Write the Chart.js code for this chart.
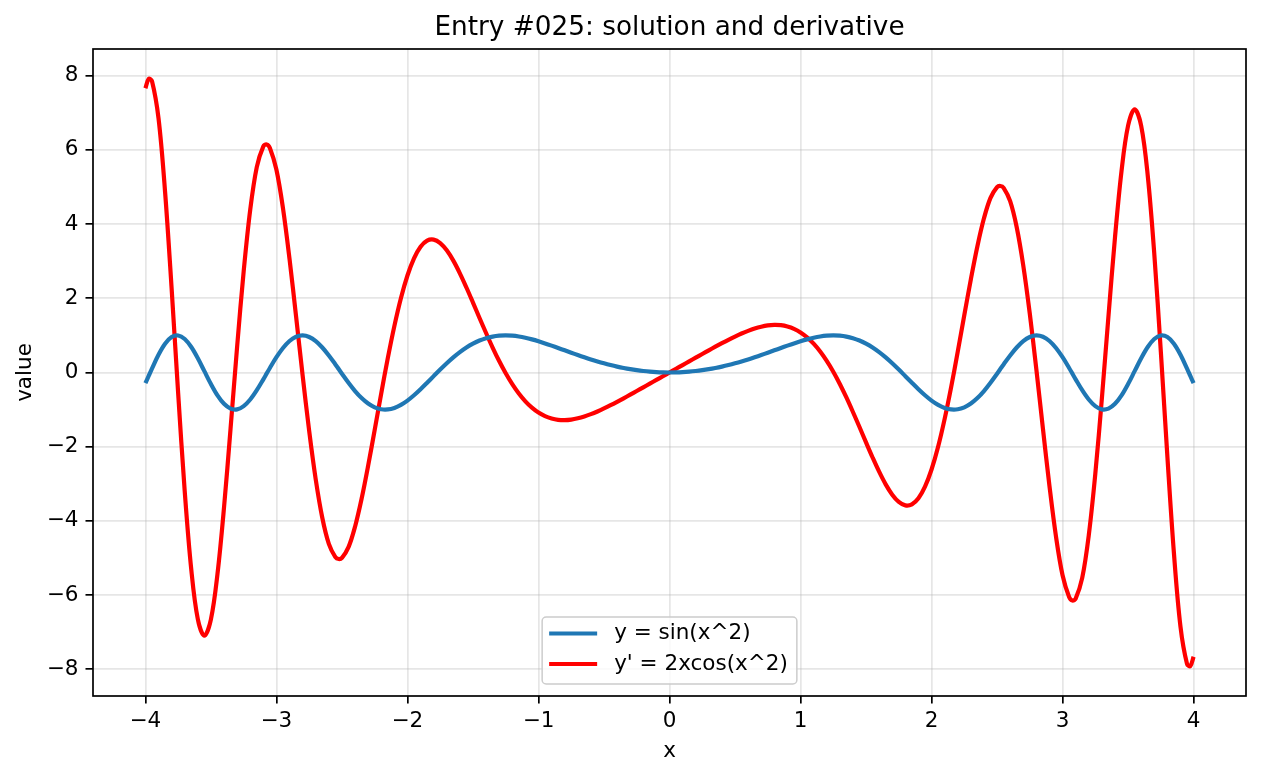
<!DOCTYPE html>
<html>
<head>
<meta charset="utf-8">
<script src="https://cdn.jsdelivr.net/npm/chart.js@4.4.1/dist/chart.umd.min.js"></script>
<style>
html,body{margin:0;padding:0;background:#ffffff;}
canvas{display:block;}
</style>
</head>
<body>
<canvas id="c" width="1261" height="776"></canvas>
<script>
const titleText = "Entry #025: solution and derivative";
const xLabel = "x";
const yLabel = "value";
const seriesLabels = ["y = sin(x^2)", "y' = 2xcos(x^2)"];
const xTicks = [-4, -3, -2, -1, 0, 1, 2, 3, 4];
const yTicks = [-8, -6, -4, -2, 0, 2, 4, 6, 8];

const xValues = [
-4, -3.975, -3.95, -3.9, -3.85, -3.8, -3.75, -3.7, -3.65, -3.6, -3.55, -3.5, -3.45, -3.4, -3.35, -3.3, -3.25, -3.2, -3.15, -3.1, -3.075, -3.05, -3.0,
-2.95, -2.9, -2.85, -2.8, -2.75, -2.7, -2.65, -2.6, -2.55, -2.525, -2.5, -2.45, -2.4, -2.35, -2.3, -2.25, -2.2, -2.15, -2.1, -2.05, -2.0,
-1.95, -1.9, -1.85, -1.8, -1.75, -1.7, -1.65, -1.6, -1.55, -1.5, -1.45, -1.4, -1.35, -1.3, -1.25, -1.2, -1.15, -1.1, -1.05, -1.0,
-0.95, -0.9, -0.85, -0.8, -0.75, -0.7, -0.65, -0.6, -0.55, -0.5, -0.45, -0.4, -0.35, -0.3, -0.25, -0.2, -0.15, -0.1, -0.05, 0,
0.05, 0.1, 0.15, 0.2, 0.25, 0.3, 0.35, 0.4, 0.45, 0.5, 0.55, 0.6, 0.65, 0.7, 0.75, 0.8, 0.85, 0.9, 0.95, 1.0,
1.05, 1.1, 1.15, 1.2, 1.25, 1.3, 1.35, 1.4, 1.45, 1.5, 1.55, 1.6, 1.65, 1.7, 1.75, 1.8, 1.85, 1.9, 1.95, 2.0,
2.05, 2.1, 2.15, 2.2, 2.25, 2.3, 2.35, 2.4, 2.45, 2.5, 2.525, 2.55, 2.6, 2.65, 2.7, 2.75, 2.8, 2.85, 2.9, 2.95, 3.0,
3.05, 3.075, 3.1, 3.15, 3.2, 3.25, 3.3, 3.35, 3.4, 3.45, 3.5, 3.55, 3.6, 3.65, 3.7, 3.75, 3.8, 3.85, 3.9, 3.95, 3.975, 4.0
];

const ySolution = [
-0.2879, -0.0925, 0.1053, 0.4777, 0.7742, 0.9545, 0.9972, 0.9018, 0.6862, 0.3835, 0.0361, -0.3111, -0.6166, -0.8449, -0.9744, -0.9944, -0.9077, -0.7280, -0.4774, -0.1841, -0.0308, 0.1220, 0.4121,
0.6612, 0.8498, 0.9640, 0.9999, 0.9578, 0.8453, 0.6738, 0.4590, 0.2175, 0.0923, -0.0332, -0.2770, -0.5002, -0.6894, -0.8378, -0.9393, -0.9919, -0.9960, -0.9547, -0.8727, -0.7568,
-0.6139, -0.4515, -0.2772, -0.0984, 0.0790, 0.2489, 0.4069, 0.5494, 0.6737, 0.7781, 0.8619, 0.9249, 0.9685, 0.9929, 1.0000, 0.9915, 0.9695, 0.9356, 0.8923, 0.8415,
0.7848, 0.7243, 0.6613, 0.5972, 0.5333, 0.4706, 0.4101, 0.3523, 0.2979, 0.2474, 0.2011, 0.1593, 0.1222, 0.0899, 0.0625, 0.0400, 0.0225, 0.0100, 0.0025, 0,
0.0025, 0.0100, 0.0225, 0.0400, 0.0625, 0.0899, 0.1222, 0.1593, 0.2011, 0.2474, 0.2979, 0.3523, 0.4101, 0.4706, 0.5333, 0.5972, 0.6613, 0.7243, 0.7848, 0.8415,
0.8923, 0.9356, 0.9695, 0.9915, 1.0000, 0.9929, 0.9685, 0.9249, 0.8619, 0.7781, 0.6737, 0.5494, 0.4069, 0.2489, 0.0790, -0.0984, -0.2772, -0.4515, -0.6139, -0.7568,
-0.8727, -0.9547, -0.9960, -0.9919, -0.9393, -0.8378, -0.6894, -0.5002, -0.2770, -0.0332, 0.0923, 0.2175, 0.4590, 0.6738, 0.8453, 0.9578, 0.9999, 0.9640, 0.8498, 0.6612, 0.4121,
0.1220, -0.0308, -0.1841, -0.4774, -0.7280, -0.9077, -0.9944, -0.9744, -0.8449, -0.6166, -0.3111, 0.0361, 0.3835, 0.6862, 0.9018, 0.9972, 0.9545, 0.7742, 0.4777, 0.1053, -0.0925, -0.2879
];

const yDerivative = [
7.662, 7.916, 7.856, 6.852, 4.873, 2.266, -0.560, -3.198, -5.310, -6.649, -7.095, -6.653, -5.432, -3.637, -1.508, 0.696, 2.727, 4.387, 5.536, 6.094, 6.147, 6.054, 5.467,
4.427, 3.058, 1.512, -0.078, -1.580, -2.885, -3.916, -4.620, -4.978, -5.028, -4.997, -4.708, -4.156, -3.404, -2.512, -1.544, -0.560, 0.386, 1.250, 2.002, 2.615,
3.078, 3.391, 3.555, 3.583, 3.489, 3.293, 3.015, 2.674, 2.291, 1.885, 1.470, 1.065, 0.673, 0.309, -0.021, -0.313, -0.566, -0.777, -0.948, -1.081,
-1.178, -1.241, -1.275, -1.283, -1.269, -1.235, -1.186, -1.123, -1.050, -0.969, -0.882, -0.790, -0.695, -0.598, -0.499, -0.399, -0.300, -0.200, -0.100, 0,
0.100, 0.200, 0.300, 0.399, 0.499, 0.598, 0.695, 0.790, 0.882, 0.969, 1.050, 1.123, 1.186, 1.235, 1.269, 1.283, 1.275, 1.241, 1.178, 1.081,
0.948, 0.777, 0.566, 0.313, 0.021, -0.309, -0.673, -1.065, -1.470, -1.885, -2.291, -2.674, -3.015, -3.293, -3.489, -3.583, -3.555, -3.391, -3.078, -2.615,
-2.002, -1.250, -0.386, 0.560, 1.544, 2.512, 3.404, 4.156, 4.708, 4.997, 5.028, 4.978, 4.620, 3.916, 2.885, 1.580, 0.078, -1.512, -3.058, -4.427, -5.467,
-6.054, -6.147, -6.094, -5.536, -4.387, -2.727, -0.696, 1.508, 3.637, 5.432, 6.653, 7.095, 6.649, 5.310, 3.198, 0.560, -2.266, -4.873, -6.852, -7.856, -7.916, -7.662
];

const FONT = '"DejaVu Sans", "Liberation Sans", sans-serif';
const FS = 21.5;
const tickFont = { family: FONT, size: FS, weight: 'normal' };
const gridColor = 'rgba(176,176,176,0.32)';

function fmt(v) {
  return v < 0 ? '\u2212' + Math.abs(v) : String(v);
}

const titlePlugin = {
  id: 'mplTitle',
  afterDraw(chart) {
    const { ctx, chartArea: a } = chart;
    ctx.save();
    ctx.font = '26.3px ' + FONT;
    ctx.fillStyle = '#000';
    ctx.textAlign = 'center';
    ctx.textBaseline = 'alphabetic';
    ctx.fillText(titleText, (a.left + a.right) / 2, 35);
    ctx.restore();
  }
};

const spinePlugin = {
  id: 'spines',
  afterDatasetsDraw(chart) {
    const { ctx, chartArea: a } = chart;
    ctx.save();
    ctx.strokeStyle = '#000';
    ctx.lineWidth = 1.7;
    ctx.strokeRect(a.left, a.top, a.right - a.left, a.bottom - a.top);
    ctx.restore();
  }
};

const legendPlugin = {
  id: 'mplLegend',
  afterDraw(chart) {
    const { ctx, chartArea: a } = chart;
    const ds = chart.data.datasets;
    ctx.save();
    ctx.font = FS + 'px ' + FONT;
    const textW = Math.max(...ds.map(d => ctx.measureText(d.label).width));
    const padL = 7, handle = 48, gap = 17, padR = 9;
    const w = padL + handle + gap + textW + padR;
    const h = 67;
    const cx = (a.left + a.right) / 2;
    const x0 = cx - w / 2;
    const y0 = a.bottom - 12 - h;
    const r = 4;
    ctx.beginPath();
    ctx.moveTo(x0 + r, y0);
    ctx.lineTo(x0 + w - r, y0);
    ctx.arcTo(x0 + w, y0, x0 + w, y0 + r, r);
    ctx.lineTo(x0 + w, y0 + h - r);
    ctx.arcTo(x0 + w, y0 + h, x0 + w - r, y0 + h, r);
    ctx.lineTo(x0 + r, y0 + h);
    ctx.arcTo(x0, y0 + h, x0, y0 + h - r, r);
    ctx.lineTo(x0, y0 + r);
    ctx.arcTo(x0, y0, x0 + r, y0, r);
    ctx.closePath();
    ctx.fillStyle = 'rgba(255,255,255,0.8)';
    ctx.fill();
    ctx.strokeStyle = '#cccccc';
    ctx.lineWidth = 1.5;
    ctx.stroke();
    const rows = [y0 + 16.5, y0 + 47];
    ds.forEach((d, i) => {
      const yy = rows[i];
      ctx.beginPath();
      ctx.moveTo(x0 + padL, yy);
      ctx.lineTo(x0 + padL + handle, yy);
      ctx.strokeStyle = d.borderColor;
      ctx.lineWidth = d.borderWidth;
      ctx.lineCap = 'butt';
      ctx.stroke();
      ctx.fillStyle = '#000';
      ctx.textAlign = 'left';
      ctx.textBaseline = 'middle';
      ctx.fillText(d.label, x0 + padL + handle + gap, yy);
    });
    ctx.restore();
  }
};

new Chart(document.getElementById('c'), {
  type: 'line',
  data: {
    datasets: [
      {
        label: seriesLabels[0],
        data: xValues.map((x, i) => ({ x: x, y: ySolution[i] })),
        borderColor: '#1f77b4',
        borderWidth: 4.2,
        pointRadius: 0,
        fill: false,
        tension: 0.35
      },
      {
        label: seriesLabels[1],
        data: xValues.map((x, i) => ({ x: x, y: yDerivative[i] })),
        borderColor: '#ff0000',
        borderWidth: 4.2,
        pointRadius: 0,
        fill: false,
        tension: 0.35
      }
    ]
  },
  options: {
    responsive: false,
    devicePixelRatio: 1,
    animation: false,
    events: [],
    layout: { padding: { left: 0, right: 15, top: 49, bottom: 0 } },
    plugins: {
      legend: { display: false },
      tooltip: { enabled: false },
      title: { display: false }
    },
    scales: {
      x: {
        type: 'linear',
        min: -4.4,
        max: 4.4,
        afterBuildTicks: s => { s.ticks = xTicks.map(v => ({ value: v })); },
        afterFit: s => { s.height = 80; },
        ticks: {
          color: '#000',
          font: tickFont,
          padding: 5,
          maxRotation: 0,
          autoSkip: false,
          callback: v => fmt(v)
        },
        grid: {
          color: gridColor,
          lineWidth: 1.7,
          drawTicks: true,
          tickLength: 7.5,
          tickColor: '#000',
          tickWidth: 1.7
        },
        border: { display: false },
        title: {
          display: true,
          text: xLabel,
          color: '#000',
          font: tickFont,
          padding: { top: 0, bottom: 12 }
        }
      },
      y: {
        type: 'linear',
        min: -8.72,
        max: 8.72,
        afterBuildTicks: s => { s.ticks = yTicks.map(v => ({ value: v })); },
        afterFit: s => { s.width = 93; },
        ticks: {
          color: '#000',
          font: tickFont,
          padding: 7,
          autoSkip: false,
          callback: v => fmt(v)
        },
        grid: {
          color: gridColor,
          lineWidth: 1.7,
          drawTicks: true,
          tickLength: 7.5,
          tickColor: '#000',
          tickWidth: 1.7
        },
        border: { display: false },
        title: {
          display: true,
          text: yLabel,
          color: '#000',
          font: tickFont,
          padding: { top: 13, bottom: 0 }
        }
      }
    }
  },
  plugins: [spinePlugin, legendPlugin, titlePlugin]
});
</script>
</body>
</html>
